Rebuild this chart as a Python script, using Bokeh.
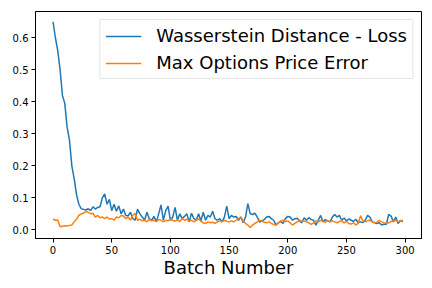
from bokeh.plotting import figure
from bokeh.models import FixedTicker, NumeralTickFormatter, Range1d, Legend, LegendItem
from bokeh.embed import file_html
from bokeh.resources import INLINE

batch = list(range(0, 300, 2))

wasserstein_loss = [
    0.650, 0.600, 0.560, 0.500, 0.420, 0.395, 0.320, 0.280, 0.200, 0.160,
    0.110, 0.080, 0.066, 0.064, 0.062, 0.066, 0.060, 0.072, 0.065, 0.070,
    0.072, 0.100, 0.112, 0.080, 0.095, 0.060, 0.080, 0.058, 0.075, 0.050,
    0.065, 0.045, 0.044, 0.055, 0.035, 0.030, 0.065, 0.050, 0.040, 0.030,
    0.055, 0.035, 0.030, 0.042, 0.025, 0.050, 0.078, 0.030, 0.060, 0.074,
    0.030, 0.040, 0.070, 0.030, 0.050, 0.035, 0.042, 0.050, 0.025, 0.052,
    0.035, 0.030, 0.050, 0.028, 0.055, 0.030, 0.045, 0.040, 0.058, 0.035,
    0.030, 0.035, 0.025, 0.040, 0.074, 0.035, 0.045, 0.040, 0.042, 0.030,
    0.040, 0.022, 0.040, 0.082, 0.050, 0.048, 0.052, 0.040, 0.024, 0.028,
    0.032, 0.040, 0.042, 0.035, 0.030, 0.015, 0.022, 0.026, 0.020, 0.035,
    0.042, 0.040, 0.030, 0.035, 0.036, 0.028, 0.022, 0.038, 0.030, 0.038,
    0.032, 0.030, 0.015, 0.030, 0.045, 0.025, 0.032, 0.028, 0.025, 0.040,
    0.048, 0.040, 0.045, 0.030, 0.037, 0.028, 0.034, 0.030, 0.026, 0.033,
    0.023, 0.025, 0.023, 0.030, 0.045, 0.040, 0.025, 0.022, 0.020, 0.022,
    0.015, 0.018, 0.017, 0.048, 0.043, 0.025, 0.040, 0.020, 0.030, 0.025,
]

max_price_error = [
    0.034, 0.030, 0.031, 0.010, 0.011, 0.013, 0.012, 0.014, 0.015, 0.025,
    0.033, 0.045, 0.050, 0.052, 0.058, 0.055, 0.050, 0.052, 0.040, 0.045,
    0.038, 0.040, 0.035, 0.040, 0.033, 0.035, 0.030, 0.040, 0.038, 0.045,
    0.043, 0.035, 0.040, 0.030, 0.045, 0.052, 0.030, 0.033, 0.028, 0.030,
    0.025, 0.033, 0.028, 0.030, 0.026, 0.032, 0.030, 0.025, 0.030, 0.028,
    0.033, 0.030, 0.027, 0.031, 0.026, 0.035, 0.030, 0.033, 0.028, 0.030,
    0.025, 0.030, 0.034, 0.027, 0.022, 0.020, 0.025, 0.022, 0.024, 0.020,
    0.025, 0.028, 0.025, 0.030, 0.027, 0.025, 0.028, 0.025, 0.030, 0.035,
    0.040, 0.028, 0.020, 0.015, 0.007, 0.015, 0.020, 0.025, 0.030, 0.027,
    0.024, 0.022, 0.025, 0.020, 0.017, 0.015, 0.022, 0.028, 0.030, 0.026,
    0.028, 0.022, 0.015, 0.020, 0.025, 0.030, 0.026, 0.028, 0.025, 0.022,
    0.017, 0.022, 0.028, 0.025, 0.030, 0.026, 0.024, 0.030, 0.025, 0.028,
    0.025, 0.022, 0.026, 0.028, 0.022, 0.026, 0.020, 0.018, 0.022, 0.015,
    0.020, 0.044, 0.028, 0.025, 0.028, 0.030, 0.025, 0.022, 0.024, 0.030,
    0.025, 0.022, 0.020, 0.022, 0.026, 0.028, 0.030, 0.025, 0.028, 0.030,
]

x_ticks = [0, 50, 100, 150, 200, 250, 300]
y_ticks = [0.0, 0.1, 0.2, 0.3, 0.4, 0.5, 0.6]
series_names = ["Wasserstein Distance - Loss", "Max Options Price Error"]

FONT = "DejaVu Sans"

p = figure(width=432, height=288, output_backend="svg", toolbar_location=None,
           x_range=Range1d(-14.95, 313.95), y_range=Range1d(-0.027, 0.682),
           min_border_left=35, min_border_right=11, min_border_top=11, min_border_bottom=50)

r1 = p.line(batch, wasserstein_loss, line_color="#1f77b4", line_width=1.5)
r2 = p.line(batch, max_price_error, line_color="#ff7f0e", line_width=1.5)

p.xgrid.visible = False
p.ygrid.visible = False
p.outline_line_color = "black"
p.outline_line_width = 1
p.background_fill_color = "white"
p.border_fill_color = "white"

for ax in (p.xaxis[0], p.yaxis[0]):
    ax.axis_line_color = "black"
    ax.major_tick_line_color = "black"
    ax.major_tick_in = 0
    ax.major_tick_out = 4
    ax.minor_tick_line_color = None
    ax.major_label_text_font = FONT
    ax.major_label_text_font_size = "10px"
    ax.major_label_text_color = "black"
    ax.major_label_standoff = 3

p.xaxis.ticker = FixedTicker(ticks=x_ticks)
p.yaxis.ticker = FixedTicker(ticks=y_ticks)
p.yaxis.formatter = NumeralTickFormatter(format="0.0")
p.xaxis.axis_label = "Batch Number"
p.xaxis.axis_label_text_font = FONT
p.xaxis.axis_label_text_font_size = "18px"
p.xaxis.axis_label_text_font_style = "normal"
p.xaxis.axis_label_text_color = "black"
p.xaxis.axis_label_standoff = 0

legend = Legend(items=[LegendItem(label=series_names[0], renderers=[r1]),
                       LegendItem(label=series_names[1], renderers=[r2])],
                location="top_right")
legend.label_text_font = FONT
legend.label_text_font_size = "18px"
legend.label_text_color = "black"
legend.glyph_width = 36
legend.glyph_height = 20
legend.label_height = 20
legend.label_standoff = 15
legend.spacing = 6
legend.padding = 5
legend.margin = 8
legend.border_line_color = "#cccccc"
legend.border_line_width = 1
legend.background_fill_alpha = 0.8
p.add_layout(legend)

open("out.html", "w").write(file_html(p, INLINE))
